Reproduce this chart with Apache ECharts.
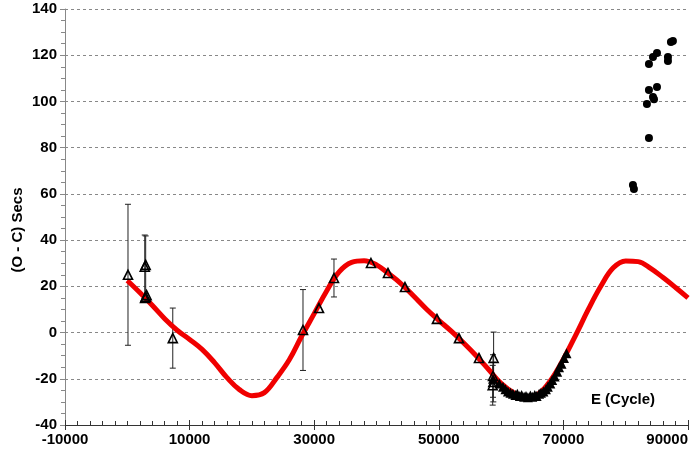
<!DOCTYPE html>
<html>
<head>
<meta charset="utf-8">
<script src="https://cdn.jsdelivr.net/npm/echarts@6/dist/echarts.min.js"></script>
<style>
html, body { margin: 0; padding: 0; background: #fff; }
#chart { width: 690px; height: 454px; }
</style>
</head>
<body>
<div id="chart"></div>
<script>
// fitted O-C curve (red), every 2000 cycles
var curveE = [0, 2000, 4000, 6000, 8000, 10000, 12000, 14000, 16000, 18000, 20000, 22000, 24000, 26000, 28000, 30000, 32000, 34000, 36000, 38000, 40000, 42000, 44000, 46000, 48000, 50000, 52000, 54000, 56000, 58000, 60000, 62000, 64000, 66000, 68000, 70000, 72000, 74000, 76000, 78000, 80000, 82000, 84000, 86000, 88000, 90000]
var curveV = [22.5, 17.3, 11.8, 6, 1, -3, -7.3, -13, -19.5, -24.7, -27.3, -26, -19.5, -11.8, -1.5, 8.2, 18, 26.3, 30.4, 31.1, 29.3, 25.4, 21, 15.7, 10.2, 5.3, 0.6, -4.5, -10, -16, -22, -26, -27.8, -26.5, -20.5, -11.5, -1, 10, 20, 28, 31, 30.7, 27.8, 23.8, 19.5, 15]

// open triangles with error (0 = no bar)
var openE = [112, 2800, 2950, 2850, 2950, 3100, 7300, 28200, 30770, 33175, 39110, 41840, 44570, 49700, 53240, 56450, 58800, 58700, 58750, 58650]
var openV = [25, 28.5, 29.3, 15, 15.5, 16.2, -2.4, 1.1, 10.6, 23.6, 30.1, 25.8, 19.7, 5.9, -2.4, -11, -11, -18.8, -21.4, -22.8]
var openErr = [30.5, 13.7, 12.5, 0, 0, 0, 13, 17.5, 0, 8.2, 0, 0, 0, 0, 0, 0, 11.2, 9.2, 8.6, 8.6]

// dense cluster of filled triangles
var blackE = [58700, 59700, 60300, 60700, 61100, 61500, 61900, 62300, 62600, 63000, 63300, 63700, 64000, 64300, 64700, 65000, 65400, 65700, 66100, 66400, 66800, 67200, 67500, 67900, 68200, 68600, 69000, 69300, 69700, 70100, 70500]
var blackV = [-20, -22, -23.5, -24.5, -25.5, -26, -26.5, -27, -26.5, -27.5, -27, -27.8, -27.5, -28, -27.2, -27.8, -27, -27.5, -26.5, -26, -25.5, -24.5, -23.5, -22, -20.5, -19, -17, -15, -13.5, -11, -9]

// recent timings (filled dots)
var dotE = [81160, 81320, 83730, 83410, 84380, 84540, 83730, 85020, 83730, 84380, 85020, 86780, 86780, 87260, 87580]
var dotV = [63.8, 62.1, 84.2, 98.9, 101.9, 101, 105, 106.2, 116.2, 119.2, 121, 119.2, 117.5, 125.7, 126.2]

function zip(a, b, c) {
	var out = []
	for (var i = 0; i < a.length; i++) {
		out.push(c ? [a[i], b[i], c[i]] : [a[i], b[i]])
	}
	return out
}

var font = 'Liberation Sans, Arial, sans-serif'
var chart = echarts.init(document.getElementById('chart'))

var option = {
	animation: false,
	backgroundColor: '#fff',
	grid: {
		left: 65,
		right: 2,
		top: 9,
		bottom: 29,
		containLabel: false,
		outerBoundsMode: 'none'
	},
	xAxis: [{
		type: 'value',
		min: -10000,
		max: 90000,
		interval: 20000,
		axisLine: { onZero: false, lineStyle: { color: '#333', width: 1 } },
		axisTick: { length: 5, lineStyle: { color: '#333' } },
		axisLabel: {
			margin: 7,
			color: '#000',
			fontSize: 15,
			fontWeight: 'bold',
			fontFamily: font,
			alignMaxLabel: 'right',
			formatter: function(v) { return String(v) }
		},
		splitLine: { show: false }
	}, {
		type: 'value',
		position: 'bottom',
		min: -10000,
		max: 90000,
		interval: 20000,
		axisLine: { show: false, onZero: false },
		axisTick: { inside: true, length: 5, lineStyle: { color: '#333' } },
		minorTick: { show: true, splitNumber: 10, length: 4, lineStyle: { color: '#333' } },
		axisLabel: { show: false },
		splitLine: { show: false }
	}],
	yAxis: [{
		type: 'value',
		min: -40,
		max: 140,
		interval: 20,
		axisLine: { show: true, onZero: false, lineStyle: { color: '#888' } },
		axisTick: { show: true, length: 5, lineStyle: { color: '#888' } },
		axisLabel: {
			margin: 8,
			color: '#000',
			fontSize: 15,
			fontWeight: 'bold',
			fontFamily: font
		},
		splitLine: { lineStyle: { color: '#888', type: [3, 3], width: 1 } }
	}, {
		type: 'value',
		position: 'left',
		min: -40,
		max: 140,
		interval: 20,
		axisLine: { show: false, onZero: false },
		axisTick: { show: false },
		minorTick: { show: true, splitNumber: 4, length: 4, lineStyle: { color: '#888' } },
		axisLabel: { show: false },
		splitLine: { show: false }
	}],
	graphic: [{
		type: 'text',
		x: 18,
		y: 230,
		rotation: Math.PI / 2,
		style: {
			text: '(O - C) Secs',
			fill: '#000',
			font: 'bold 15px ' + font,
			align: 'center',
			verticalAlign: 'middle'
		}
	}, {
		type: 'text',
		x: 623,
		y: 400,
		style: {
			text: 'E (Cycle)',
			fill: '#000',
			font: 'bold 15px ' + font,
			align: 'center',
			verticalAlign: 'middle'
		}
	}],
	series: [{
		type: 'custom',
		z: 1,
		data: zip(openE, openV, openErr),
		renderItem: function(params, api) {
			var e = api.value(2)
			if (!e) return
			var x = api.value(0), v = api.value(1)
			var top = api.coord([x, v + e])
			var bot = api.coord([x, v - e])
			var st = { stroke: '#222', lineWidth: 1 }
			return {
				type: 'group',
				children: [
					{ type: 'line', shape: { x1: top[0], y1: top[1], x2: bot[0], y2: bot[1] }, style: st },
					{ type: 'line', shape: { x1: top[0] - 3, y1: top[1], x2: top[0] + 3, y2: top[1] }, style: st },
					{ type: 'line', shape: { x1: bot[0] - 3, y1: bot[1], x2: bot[0] + 3, y2: bot[1] }, style: st }
				]
			}
		}
	}, {
		type: 'line',
		z: 2,
		data: zip(curveE, curveV),
		smooth: 0.4,
		showSymbol: false,
		lineStyle: { color: '#f00000', width: 5 }
	}, {
		type: 'scatter',
		z: 3,
		data: zip(blackE, blackV),
		symbol: 'triangle',
		symbolSize: 10,
		itemStyle: { color: '#000', opacity: 1 }
	}, {
		type: 'scatter',
		z: 4,
		data: zip(openE, openV),
		symbol: 'triangle',
		symbolSize: 9,
		itemStyle: { color: 'rgba(0,0,0,0)', borderColor: '#000', borderWidth: 1.6, opacity: 1 }
	}, {
		type: 'scatter',
		z: 4,
		data: zip(dotE, dotV),
		symbol: 'circle',
		symbolSize: 8,
		itemStyle: { color: '#000', opacity: 1 }
	}]
}
chart.setOption(option)
</script>
</body>
</html>
